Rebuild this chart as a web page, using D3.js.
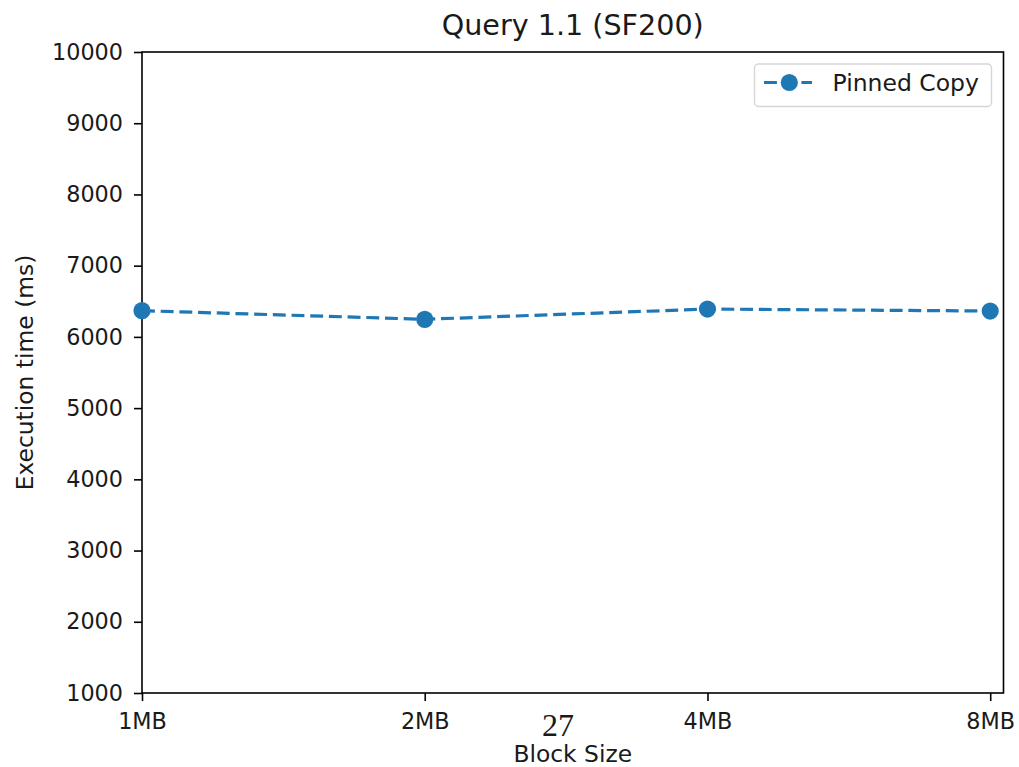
<!DOCTYPE html>
<html>
<head>
<meta charset="utf-8">
<script src="https://cdn.jsdelivr.net/npm/d3@7"></script>
<style>
  body { margin: 0; background: #fff; }
  svg { display: block; }
  text { font-family: "DejaVu Sans", sans-serif; fill: #1a1a1a; }
</style>
</head>
<body>
<svg id="chart" width="1019" height="767"></svg>
<script>
const categories = ["1MB", "2MB", "4MB", "8MB"];
const pinnedCopy = [6368, 6247, 6391, 6363];
const yTicks = [1000, 2000, 3000, 4000, 5000, 6000, 7000, 8000, 9000, 10000];
const seriesName = "Pinned Copy";

(function () {
const svg = d3.select("#chart");
const mLeft = 142, mRight = 1003.5, mTop = 52, mBottom = 693;
const color = "#1f77b4";

const x = d3.scaleLinear().domain([0, 3.047]).range([mLeft, mRight]);
const y = d3.scaleLinear().domain([1000, 10000]).range([mBottom, mTop]);

const xAxis = d3.axisBottom(x).tickValues(d3.range(categories.length))
  .tickFormat(i => categories[i]).tickSize(8).tickPadding(12);
const yAxis = d3.axisLeft(y).tickValues(yTicks).tickFormat(d3.format("d"))
  .tickSize(8).tickPadding(11);

const gx = svg.append("g").attr("transform", `translate(0,${mBottom})`).call(xAxis);
const gy = svg.append("g").attr("transform", `translate(${mLeft},0)`).call(yAxis);
[gx, gy].forEach(g => {
  g.select(".domain").remove();
  g.selectAll(".tick line").attr("stroke", "#000").attr("stroke-width", 1.6);
  g.selectAll(".tick text").style("font-size", "22.3px").attr("fill", "#1a1a1a")
    .style("font-family", "'DejaVu Sans', sans-serif");
});

svg.append("rect").attr("x", mLeft).attr("y", mTop)
  .attr("width", mRight - mLeft).attr("height", mBottom - mTop)
  .attr("fill", "none").attr("stroke", "#000").attr("stroke-width", 1.6);

const line = d3.line().x((d, i) => x(i)).y(d => y(d));
svg.append("path").datum(pinnedCopy).attr("d", line)
  .attr("fill", "none").attr("stroke", color).attr("stroke-width", 3.2)
  .attr("stroke-dasharray", "12.9,5.8");
svg.append("g").selectAll("circle").data(pinnedCopy).join("circle")
  .attr("cx", (d, i) => x(i)).attr("cy", d => y(d)).attr("r", 8.6)
  .attr("fill", color);

svg.append("text").attr("x", (mLeft + mRight) / 2).attr("y", 34.5)
  .attr("text-anchor", "middle").style("font-size", "28.6px").text("Query 1.1 (SF200)");
svg.append("text").attr("x", (mLeft + mRight) / 2).attr("y", 762)
  .attr("text-anchor", "middle").style("font-size", "23.4px").text("Block Size");
svg.append("text").attr("transform", `translate(33,${(mTop + mBottom) / 2}) rotate(-90)`)
  .attr("text-anchor", "middle").style("font-size", "23.4px").text("Execution time (ms)");
svg.append("text").attr("x", 558).attr("y", 736)
  .attr("text-anchor", "middle").style("font-family", "'Liberation Serif', 'DejaVu Serif', serif")
  .style("font-size", "32px").attr("fill", "#000").text("27");

const lg = svg.append("g");
lg.append("rect").attr("x", 754.5).attr("y", 64).attr("width", 237).attr("height", 42.5)
  .attr("rx", 4).attr("fill", "#fff").attr("stroke", "#d6d6d6").attr("stroke-width", 1.4);
lg.append("line").attr("x1", 764).attr("x2", 812).attr("y1", 82.5).attr("y2", 82.5)
  .attr("stroke", color).attr("stroke-width", 3.2).attr("stroke-dasharray", "12.9,5.8");
lg.append("circle").attr("cx", 789.3).attr("cy", 82.5).attr("r", 8.6).attr("fill", color);
lg.append("text").attr("x", 832.5).attr("y", 91).style("font-size", "23.5px").text(seriesName);
})();
</script>
</body>
</html>
